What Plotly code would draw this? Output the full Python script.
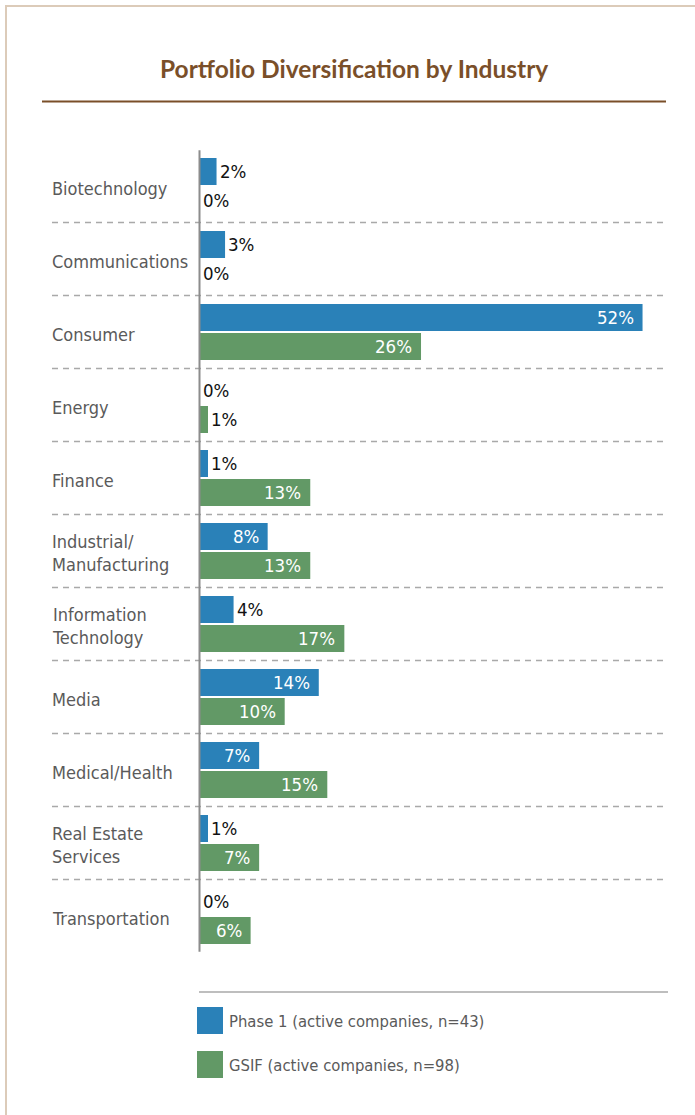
import plotly.graph_objects as go

# Industry categories, top to bottom
categories = [
    "Biotechnology",
    "Communications",
    "Consumer",
    "Energy",
    "Finance",
    "Industrial/<br>Manufacturing",
    "Information<br>Technology",
    "Media",
    "Medical/Health",
    "Real Estate<br>Services",
    "Transportation",
]

# Share of active companies per industry (%)
phase1 = [2, 3, 52, 0, 1, 8, 4, 14, 7, 1, 0]
gsif = [0, 0, 26, 1, 13, 13, 17, 10, 15, 7, 6]

series_names = [
    "Phase 1 (active companies, n=43)",
    "GSIF (active companies, n=98)",
]

title_text = "Portfolio Diversification by Industry"

BLUE = "#2a81b8"
GREEN = "#629966"
BROWN = "#7a4f29"
LABEL_GRAY = "#5a5a5a"
RULE_GRAY = "#a9a9a9"

W, H = 695, 1115
LABEL_FONT = "DejaVu Sans Condensed, Liberation Sans Narrow, sans-serif"

# pixel geometry of the plotting scale
X0_PX = 199.5          # pixel position of 0 %
PX_PER_PCT = 8.52
ROW0_PX = 186          # centre of the first row
ROW_PX = 73            # row pitch

x_range = [-X0_PX / PX_PER_PCT, (W - X0_PX) / PX_PER_PCT]
y_range = [(H - ROW0_PX) / ROW_PX, -ROW0_PX / ROW_PX]  # reversed: first row on top

rows = list(range(len(categories)))
bar_w = 27 / ROW_PX

fig = go.Figure()
fig.add_trace(go.Bar(
    y=rows, x=phase1, orientation="h", name=series_names[0],
    marker=dict(color=BLUE, line=dict(width=0)),
    width=bar_w, offset=-28 / ROW_PX, hoverinfo="skip",
))
fig.add_trace(go.Bar(
    y=rows, x=gsif, orientation="h", name=series_names[1],
    marker=dict(color=GREEN, line=dict(width=0)),
    width=bar_w, offset=1 / ROW_PX, hoverinfo="skip",
))

annotations = []
shapes = []

# value labels: white inside long bars, black just past short ones
def add_value_labels(values, dy):
    for i, v in enumerate(values):
        inside = v >= 5
        annotations.append(dict(
            x=v, y=i + dy, xref="x", yref="y",
            text=f"{v}%", showarrow=False,
            xanchor="right" if inside else "left",
            xshift=-7 if inside else 1,
            yanchor="middle",
            font=dict(family=LABEL_FONT, size=18.5,
                      color="white" if inside else "#111111"),
        ))

add_value_labels(phase1, -14.5 / ROW_PX)
add_value_labels(gsif, 14.5 / ROW_PX)

# category labels, left aligned
for i, c in enumerate(categories):
    annotations.append(dict(
        x=50 / W, y=i + 2 / ROW_PX, xref="paper", yref="y",
        text=c, showarrow=False, xanchor="left", yanchor="middle",
        align="left",
        font=dict(family=LABEL_FONT, size=18, color=LABEL_GRAY),
    ))

# dashed separators between rows
for i in range(len(categories) - 1):
    shapes.append(dict(
        type="line", xref="paper", yref="y",
        x0=52 / W, x1=668 / W, y0=i + 0.5, y1=i + 0.5,
        line=dict(color=RULE_GRAY, width=1.5, dash="6px,5px"),
    ))

# vertical zero axis
shapes.append(dict(
    type="line", xref="x", yref="y",
    x0=0, x1=0, y0=-0.49, y1=len(categories) - 0.51,
    line=dict(color="#8c8c8c", width=2),
))

# page frame (left and top edges)
shapes.append(dict(
    type="rect", xref="paper", yref="paper",
    x0=6 / W, x1=1.02, y0=1 - 6 / H, y1=-0.02,
    line=dict(color="#dccbb9", width=2), layer="below",
))

# title and rule
annotations.append(dict(
    x=354 / W, y=1 - 69 / H, xref="paper", yref="paper",
    text=f"<b>{title_text}</b>", showarrow=False,
    xanchor="center", yanchor="middle",
    font=dict(family="Lato, Open Sans, sans-serif", size=24.5, color=BROWN),
))
shapes.append(dict(
    type="line", xref="paper", yref="paper",
    x0=42 / W, x1=666 / W, y0=1 - 101.5 / H, y1=1 - 101.5 / H,
    line=dict(color=BROWN, width=2),
))

# legend block
shapes.append(dict(
    type="line", xref="paper", yref="paper",
    x0=199 / W, x1=668 / W, y0=1 - 992 / H, y1=1 - 992 / H,
    line=dict(color=RULE_GRAY, width=1.5),
))
for k, (name, col) in enumerate(zip(series_names, [BLUE, GREEN])):
    top = 1007 + 44 * k
    shapes.append(dict(
        type="rect", xref="paper", yref="paper",
        x0=197 / W, x1=223 / W, y0=1 - top / H, y1=1 - (top + 27) / H,
        fillcolor=col, line=dict(width=0),
    ))
    annotations.append(dict(
        x=227 / W, y=1 - (top + 14) / H, xref="paper", yref="paper",
        text=name, showarrow=False, xanchor="left", yanchor="middle",
        font=dict(family=LABEL_FONT, size=16.5, color=LABEL_GRAY),
    ))

fig.update_layout(
    width=W, height=H,
    margin=dict(l=0, r=0, t=0, b=0),
    paper_bgcolor="white", plot_bgcolor="white",
    showlegend=False,
    xaxis=dict(range=x_range, visible=False, fixedrange=True),
    yaxis=dict(range=y_range, visible=False, fixedrange=True),
    annotations=annotations,
    shapes=shapes,
)

fig.write_html("out.html")
